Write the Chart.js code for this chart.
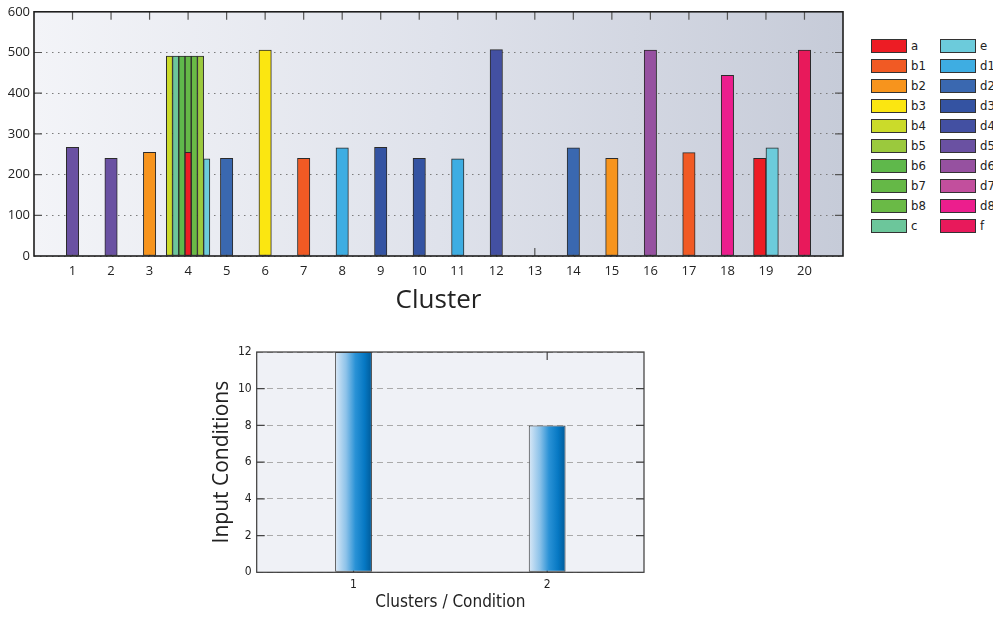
<!DOCTYPE html>
<html>
<head>
<meta charset="utf-8">
<script src="https://cdn.jsdelivr.net/npm/chart.js@4.4.1/dist/chart.umd.min.js"></script>
<style>
  html, body { margin: 0; padding: 0; background: #fff; width: 993px; height: 617px; overflow: hidden; }
  #topWrap { position: absolute; left: 0; top: 0; width: 860px; height: 320px; }
  #bottomWrap { position: absolute; left: 190px; top: 330px; width: 470px; height: 287px; }
  #legend { position: absolute; left: 871px; top: 39px; display: flex; }
  #legend .col { display: flex; flex-direction: column; width: 69px; }
  #legend .item { height: 20px; display: flex; align-items: flex-start; }
  #legend .sw { width: 34px; height: 12px; border: 1px solid #333; flex: none; }
  #legend .lbl { margin-left: 4px; font: 13px 'DejaVu Sans Condensed', 'Roboto', sans-serif; line-height: 14px; color: #222; }
</style>
</head>
<body>
<div id="topWrap"><canvas id="clusterChart"></canvas></div>
<div id="legend"></div>
<div id="bottomWrap"><canvas id="conditionChart"></canvas></div>
<script>
// ---- data -----------------------------------------------------------
const clusters = ['1','2','3','4','5','6','7','8','9','10','11','12','13','14','15','16','17','18','19','20'];
const seriesNames = ['a','b1','b2','b3','b4','b5','b6','b7','b8','c','e','d1','d2','d3','d4','d5','d6','d7','d8','f'];
const seriesColors = ['#ed1c24','#f15a24','#f7941d','#fbe611','#cbdb2a','#9bc93d','#5fb84b','#65b847','#6aba46','#6cc69b',
                      '#6ccbdb','#3eade2','#3a68b0','#3453a2','#4350a2','#6a51a2','#9651a0','#c24f9d','#ec1e8d','#e8195b'];

// values per series for clusters 1..20 (null = no bar)
const N = null;
const a  = [N,N,N,255,N,N,N,N,N,N,N,N,N,N,N,N,N,N,240,N];
const b1 = [N,N,N,N,N,N,240,N,N,N,N,N,N,N,N,N,254,N,N,N];
const b2 = [N,N,255,N,N,N,N,N,N,N,N,N,N,N,240,N,N,N,N,N];
const b3 = [N,N,N,N,N,506,N,N,N,N,N,N,N,N,N,N,N,N,N,N];
const b4 = [N,N,N,491,N,N,N,N,N,N,N,N,N,N,N,N,N,N,N,N];
const b5 = [N,N,N,491,N,N,N,N,N,N,N,N,N,N,N,N,N,N,N,N];
const b6 = [N,N,N,491,N,N,N,N,N,N,N,N,N,N,N,N,N,N,N,N];
const b7 = [N,N,N,491,N,N,N,N,N,N,N,N,N,N,N,N,N,N,N,N];
const b8 = [N,N,N,491,N,N,N,N,N,N,N,N,N,N,N,N,N,N,N,N];
const c  = [N,N,N,491,N,N,N,N,N,N,N,N,N,N,N,N,N,N,N,N];
const e  = [N,N,N,239,N,N,N,N,N,N,N,N,N,N,N,N,N,N,266,N];
const d1 = [N,N,N,N,N,N,N,266,N,N,239,N,N,N,N,N,N,N,N,N];
const d2 = [N,N,N,N,240,N,N,N,N,N,N,N,N,266,N,N,N,N,N,N];
const d3 = [N,N,N,N,N,N,N,N,267,240,N,N,N,N,N,N,N,N,N,N];
const d4 = [N,N,N,N,N,N,N,N,N,N,N,507,N,N,N,N,N,N,N,N];
const d5 = [267,240,N,N,N,N,N,N,N,N,N,N,N,N,N,N,N,N,N,N];
const d6 = [N,N,N,N,N,N,N,N,N,N,N,N,N,N,N,506,N,N,N,N];
const d7 = [N,N,N,N,N,N,N,N,N,N,N,N,N,N,N,N,N,N,N,N];
const d8 = [N,N,N,N,N,N,N,N,N,N,N,N,N,N,N,N,N,444,N,N];
const f  = [N,N,N,N,N,N,N,N,N,N,N,N,N,N,N,N,N,N,N,506];

const conditionLabels = ['1','2'];
const inputConditions = [12, 8];

// ---- layout of bars inside a cluster ----------------------------------
const seriesValues = {a,b1,b2,b3,b4,b5,b6,b7,b8,c,e,d1,d2,d3,d4,d5,d6,d7,d8,f};
const slotOrder = ['a','b1','b2','b3','b4','c','b6','b7','b8','b5','e','d1','d2','d3','d4','d5','d6','d7','d8','f'];
const OVERLAY = 'a';      // drawn over the middle slot of a crowded cluster
const BAR_W = 0.322;      // bar width in cluster units
const GROUP_W = 1.13;     // maximum width of a crowded cluster

const bars = [];
clusters.forEach((label, k) => {
  const present = slotOrder.filter(n => seriesValues[n][k] != null);
  const overlay = present.length > 3 && present.includes(OVERLAY);
  const slotted = overlay ? present.filter(n => n !== OVERLAY) : present;
  const w = Math.min(BAR_W, GROUP_W / slotted.length);
  slotted.forEach((n, i) => bars.push({ name: n, x: k + 1 + (i - (slotted.length - 1) / 2) * w, y: seriesValues[n][k], w, top: false }));
  if (overlay) bars.push({ name: OVERLAY, x: k + 1, y: seriesValues[OVERLAY][k], w, top: true });
});

const colorOf = name => seriesColors[seriesNames.indexOf(name)];

// ---- legend ----------------------------------------------------------
const legendEl = document.getElementById('legend');
for (let col = 0; col < 2; col++) {
  const colEl = document.createElement('div');
  colEl.className = 'col';
  seriesNames.slice(col * 10, col * 10 + 10).forEach(name => {
    const item = document.createElement('div'); item.className = 'item';
    const sw = document.createElement('div'); sw.className = 'sw'; sw.style.background = colorOf(name);
    const lbl = document.createElement('span'); lbl.className = 'lbl'; lbl.textContent = name;
    item.appendChild(sw); item.appendChild(lbl); colEl.appendChild(item);
  });
  legendEl.appendChild(colEl);
}

// ---- plot frame, background and inward tick marks ---------------------
const framePlugin = {
  id: 'frame',
  beforeDraw(chart, args, o) {
    const { ctx, chartArea: ar } = chart;
    ctx.save();
    if (o.gradient) {
      const g = ctx.createLinearGradient(ar.left, 0, ar.right, 0);
      o.gradient.forEach(([s, col]) => g.addColorStop(s, col));
      ctx.fillStyle = g;
    } else {
      ctx.fillStyle = o.fill;
    }
    ctx.fillRect(ar.left, ar.top, ar.width, ar.height);
    ctx.restore();
  },
  beforeDatasetsDraw(chart, args, o) {
    const { ctx, chartArea: ar, scales: { x, y } } = chart;
    const L = o.tickLen;
    ctx.save();
    ctx.strokeStyle = o.tickColor;
    ctx.lineWidth = 1.2;
    ctx.beginPath();
    x.ticks.forEach((t, i) => {
      const px = x.getPixelForTick(i);
      if (px <= ar.left + 1 || px >= ar.right - 1) return;
      ctx.moveTo(px, ar.top); ctx.lineTo(px, ar.top + L);
      ctx.moveTo(px, ar.bottom); ctx.lineTo(px, ar.bottom - L);
    });
    y.ticks.forEach((t, i) => {
      const py = y.getPixelForTick(i);
      if (py <= ar.top + 1 || py >= ar.bottom - 1) return;
      ctx.moveTo(ar.left, py); ctx.lineTo(ar.left + L, py);
      ctx.moveTo(ar.right, py); ctx.lineTo(ar.right - L, py);
    });
    ctx.stroke();
    ctx.restore();
  },
  afterDatasetsDraw(chart, args, o) {
    const { ctx, chartArea: ar } = chart;
    ctx.save();
    ctx.strokeStyle = o.frameColor;
    ctx.lineWidth = o.frameWidth;
    ctx.strokeRect(ar.left, ar.top, ar.width, ar.height);
    ctx.restore();
  }
};

// ---- top chart: values per cluster ------------------------------------
const topFont = { family: "'Open Sans', 'Noto Sans', sans-serif", size: 13 };
let pxPerUnit = 809 / 21;

const clusterChart = new Chart(document.getElementById('clusterChart'), {
  type: 'bar',
  data: {
    datasets: bars.map(b => ({
      label: b.name,
      data: [{ x: b.x, y: b.y }],
      backgroundColor: colorOf(b.name),
      borderColor: '#2b2b2b',
      borderWidth: 1,
      borderSkipped: false,
      grouped: false,
      barThickness: b.w * pxPerUnit,
      order: b.top ? -1 : 0
    }))
  },
  options: {
    responsive: true,
    maintainAspectRatio: false,
    animation: false,
    events: [],
    layout: { padding: { top: 11, right: 17, left: 0, bottom: 0 } },
    plugins: {
      legend: { display: false },
      tooltip: { enabled: false },
      frame: {
        gradient: [[0, '#f3f4f8'], [0.5, '#dfe2eb'], [1, '#c6cbd8']],
        tickLen: 8, tickColor: '#555', frameColor: '#1e1e1e', frameWidth: 1.6
      }
    },
    scales: {
      x: {
        type: 'linear', min: 0, max: clusters.length + 1, offset: false,
        afterBuildTicks: s => { s.ticks = Array.from({ length: clusters.length + 2 }, (_, v) => ({ value: v })); },
        ticks: {
          autoSkip: false, maxRotation: 0, padding: 7, color: '#222', font: topFont,
          callback: v => (v >= 1 && v <= clusters.length) ? clusters[v - 1] : ''
        },
        grid: { display: false, drawTicks: false },
        border: { display: false },
        title: { display: true, text: 'Cluster', color: '#222', font: { family: "'Open Sans', 'Noto Sans', sans-serif", size: 26 }, padding: { top: 0, bottom: 4 } },
        afterFit: s => { s.height = 64; }
      },
      y: {
        min: 0, max: 600,
        ticks: { stepSize: 100, padding: 4, color: '#222', font: topFont },
        grid: { color: '#7c7c7c', lineWidth: 1, drawTicks: false },
        border: { display: false, dash: [1.5, 4.5] },
        afterFit: s => { s.width = 34; }
      }
    }
  },
  plugins: [framePlugin]
});

// re-size bars once the plot width is known
const realPx = clusterChart.chartArea.width / (clusters.length + 1);
if (Math.abs(realPx - pxPerUnit) > 0.01) {
  pxPerUnit = realPx;
  clusterChart.data.datasets.forEach((ds, i) => { ds.barThickness = bars[i].w * pxPerUnit; });
  clusterChart.update();
}

// ---- bottom chart: input conditions per cluster/condition -------------
const narrow = "'DejaVu Sans Condensed', 'Roboto', sans-serif";
// horizontal light-to-dark blue shading across each bar
const barShade = ctx => {
  const el = ctx.element;
  const chart = ctx.chart;
  if (!el || !chart.chartArea || !isFinite(el.x) || !el.width) return '#2a92d6';
  const l = el.x - el.width / 2, r = el.x + el.width / 2;
  const g = chart.ctx.createLinearGradient(l, 0, r, 0);
  g.addColorStop(0, '#dbe9f7');
  g.addColorStop(0.3, '#8cc2e9');
  g.addColorStop(0.55, '#2a92d6');
  g.addColorStop(0.8, '#0678c3');
  g.addColorStop(1, '#005a98');
  return g;
};

const conditionChart = new Chart(document.getElementById('conditionChart'), {
  type: 'bar',
  data: {
    labels: conditionLabels,
    datasets: [{
      data: inputConditions,
      backgroundColor: barShade,
      borderColor: '#3c3c3c',
      borderWidth: 1,
      borderSkipped: false,
      categoryPercentage: 1,
      barPercentage: 0.19
    }]
  },
  options: {
    responsive: true,
    maintainAspectRatio: false,
    animation: false,
    events: [],
    layout: { padding: { top: 22, right: 16, left: 0, bottom: 0 } },
    plugins: {
      legend: { display: false },
      tooltip: { enabled: false },
      frame: { fill: '#eff1f6', tickLen: 8, tickColor: '#444', frameColor: '#3a3a3a', frameWidth: 1.2 }
    },
    scales: {
      x: {
        ticks: { padding: 5, color: '#222', font: { family: narrow, size: 12 } },
        grid: { display: false, drawTicks: false },
        border: { display: false },
        title: { display: true, text: 'Clusters / Condition', color: '#222', font: { family: narrow, size: 17 }, padding: { top: 0, bottom: 4 } },
        afterFit: s => { s.height = 44.7; }
      },
      y: {
        min: 0, max: 12,
        ticks: { stepSize: 2, padding: 5, color: '#222', font: { family: narrow, size: 12 } },
        grid: { color: '#aaaaaa', lineWidth: 1, drawTicks: false },
        border: { display: false, dash: [6, 4] },
        title: { display: true, text: 'Input Conditions', color: '#222', font: { family: "'Open Sans', 'Noto Sans', sans-serif", size: 21 }, padding: { top: 19, bottom: 0 } },
        afterFit: s => { s.width = 66.7; }
      }
    }
  },
  plugins: [framePlugin]
});
// second pass so the shading follows the final bar geometry
conditionChart.update();
</script>
</body>
</html>
